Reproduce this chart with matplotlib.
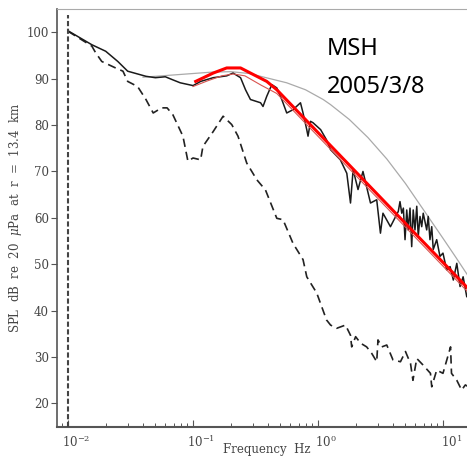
import matplotlib
matplotlib.use("Agg")
import matplotlib.pyplot as plt
import matplotlib.transforms as mtransforms
from matplotlib.ticker import LogLocator, FixedLocator, NullFormatter


# observed spectrum (solid black), Hz / dB
obs_freq = [0.010, 0.0155, 0.020, 0.025, 0.030, 0.042, 0.050, 0.060, 0.068, 0.079,
            0.100, 0.115, 0.145, 0.186, 0.209, 0.240, 0.263, 0.288, 0.347, 0.363,
            0.389, 0.427, 0.468, 0.513, 0.562, 0.631, 0.724, 0.759, 0.813, 0.832,
            0.871, 0.912, 1.05, 1.17, 1.26, 1.51, 1.70, 1.82, 1.91, 2.09,
            2.29, 2.63, 2.95, 3.16, 3.31, 3.80, 4.39, 4.53, 4.68, 4.82,
            4.97, 5.13, 5.27, 5.45, 5.62, 5.78, 5.97, 6.17, 6.34, 6.55,
            6.76, 6.95, 7.41, 7.62, 7.87, 8.13, 8.36, 8.91, 9.46, 10.0,
            10.7, 11.4, 12.1, 12.9, 13.7, 14.5, 15.5, 17.4]
obs_db = [100.3, 97.3, 95.9, 93.7, 91.6, 90.5, 90.2, 90.4, 89.8, 89.1,
          88.5, 89.4, 90.2, 90.6, 91.2, 90.2, 87.6, 85.5, 84.8, 84.0,
          86.2, 88.7, 88.0, 85.5, 82.6, 83.3, 84.8, 82.6, 79.0, 77.6,
          80.8, 80.5, 79.0, 76.8, 74.7, 72.5, 69.6, 63.2, 70.4, 66.1,
          70.0, 63.2, 63.9, 56.7, 61.0, 58.1, 61.4, 63.5, 61.0, 62.1,
          55.3, 61.7, 57.4, 62.1, 53.8, 61.7, 57.4, 62.5, 56.0, 60.3,
          58.1, 61.0, 57.4, 60.3, 55.3, 58.1, 53.2, 55.3, 51.7, 52.4,
          48.8, 49.5, 46.6, 50.2, 45.2, 47.3, 43.0, 42.5]

# noise spectrum (dashed black)
noise_freq = [0.010, 0.0155, 0.0166, 0.0186, 0.024, 0.0275, 0.030, 0.036, 0.042, 0.048,
              0.056, 0.062, 0.069, 0.083, 0.091, 0.100, 0.115, 0.120, 0.145, 0.174,
              0.204, 0.229, 0.269, 0.324, 0.380, 0.468, 0.525, 0.631, 0.759, 0.813,
              0.977, 1.17, 1.26, 1.41, 1.66, 1.82, 1.86, 2.00, 2.19, 2.45,
              2.69, 2.95, 3.02, 3.24, 3.55, 3.98, 4.57, 5.01, 5.50, 5.75,
              6.17, 6.92, 7.94, 8.13, 8.91, 10.0, 11.5, 11.7, 12.9, 14.1,
              15.1, 17.4]
noise_db = [100.2, 97.0, 95.6, 93.7, 92.3, 91.6, 89.4, 88.3, 85.5, 82.6,
            83.7, 83.7, 82.2, 77.6, 72.2, 72.9, 72.5, 75.4, 78.6, 81.9,
            80.1, 77.6, 71.8, 68.2, 66.0, 59.9, 59.6, 54.5, 51.0, 47.3,
            43.8, 38.0, 36.9, 36.2, 36.9, 34.7, 32.2, 34.4, 33.0, 32.2,
            30.8, 29.0, 33.7, 32.2, 32.6, 29.4, 29.0, 31.2, 28.6, 25.0,
            29.7, 28.3, 26.5, 23.6, 27.2, 26.5, 32.2, 26.5, 25.0, 22.9,
            24.0, 23.0]

# smooth model (grey)
model_freq = [0.0398, 0.0794, 0.141, 0.200, 0.282, 0.398, 0.562, 0.794, 1.10, 1.26,
              1.78, 2.51, 3.55, 5.01, 7.08, 10.0, 12.6, 15.8, 20.0]
model_db = [90.3, 90.9, 91.4, 91.5, 91.1, 90.1, 89.1, 87.6, 85.5, 84.4,
            81.2, 77.3, 72.7, 67.4, 61.5, 55.6, 51.6, 47.6, 43.6]

# fitted spectrum (thick red) and its companion (thin red)
fit_freq = [0.105, 0.145, 0.186, 0.240, 0.288, 0.389, 0.468, 17.8]
fit_db = [89.4, 91.2, 92.3, 92.3, 91.2, 89.4, 87.6, 43.4]
fit2_freq = [0.100, 0.130, 0.170, 0.210, 0.260, 0.350, 0.468, 17.8]
fit2_db = [88.3, 89.5, 90.6, 91.0, 90.6, 88.6, 86.8, 42.6]

vline_freq = 0.01
vline_top = 103.8

y_ticks = [20, 30, 40, 50, 60, 70, 80, 90, 100]
annot_lines = ["MSH", "2005/3/8"]

axis_grey = "#555555"
text_grey = "#454545"

plt.rcParams["font.family"] = "DejaVu Serif"
plt.rcParams["mathtext.fontset"] = "dejavuserif"

fig = plt.figure(figsize=(4.67, 4.62), dpi=100)
ax = fig.add_axes([0.1227, 0.0764, 0.9064, 0.9041])

ax.plot(model_freq, model_db, color="#aaaaaa", lw=0.9, zorder=2)
ax.plot(noise_freq, noise_db, color="#222222", lw=1.2, dashes=(5, 3), zorder=3)
ax.plot(obs_freq, obs_db, color="#1a1a1a", lw=1.1, zorder=3)
ax.plot(fit2_freq, fit2_db, color="#d9534f", lw=0.8, zorder=4)
ax.plot(fit_freq, fit_db, color="#ff0000", lw=2.2, zorder=5)
ax.vlines(vline_freq, 15, vline_top, colors="#444444", lw=1.5,
          linestyles=(0, (2.5, 1.2)), zorder=3)

ax.set_xscale("log")
ax.set_xlim(0.0082, 20)
ax.set_ylim(15, 105)
ax.yaxis.set_major_locator(FixedLocator(y_ticks))
ax.xaxis.set_major_locator(LogLocator(base=10))
ax.xaxis.set_minor_locator(LogLocator(base=10, subs=range(2, 10)))
ax.xaxis.set_minor_formatter(NullFormatter())

for side in ["left", "bottom"]:
    ax.spines[side].set_color(axis_grey)
ax.spines["left"].set_linewidth(1.2)
ax.spines["bottom"].set_linewidth(1.5)
ax.spines["top"].set_color("#aaaaaa")
ax.spines["top"].set_linewidth(0.8)
ax.spines["right"].set_visible(False)

ax.tick_params(axis="x", which="major", direction="in", length=5, width=0.8,
               color=axis_grey, labelsize=8.5, labelcolor=text_grey, pad=5)
ax.tick_params(axis="x", which="minor", direction="in", length=3, width=0.7,
               color=axis_grey)
ax.tick_params(axis="y", which="major", direction="out", length=4, width=0.8,
               color=axis_grey, labelsize=8.5, labelcolor=text_grey, pad=2)

# shift x tick labels so "10" sits over the tick like the original
shift = mtransforms.ScaledTranslation(6 / 72, 0, fig.dpi_scale_trans)
for tick in ax.xaxis.get_major_ticks():
    tick.label1.set_transform(tick.label1.get_transform() + shift)

ax.set_xlabel("Frequency  Hz", fontsize=8.5, color=text_grey)
ax.set_ylabel("SPL  dB  re  20  $\\mu$Pa  at  r  =  13.4  km", fontsize=8.5,
              color=text_grey)
ax.xaxis.set_label_coords(0.495, -0.039)
ax.yaxis.set_label_coords(-0.079, 0.5)

fig.text(0.700, 0.881, annot_lines[0], fontsize=17, family="Noto Sans",
         color="black", va="baseline", ha="left")
fig.text(0.700, 0.799, annot_lines[1], fontsize=17, family="Noto Sans",
         color="black", va="baseline", ha="left")

fig.savefig("out.png", dpi=100)
